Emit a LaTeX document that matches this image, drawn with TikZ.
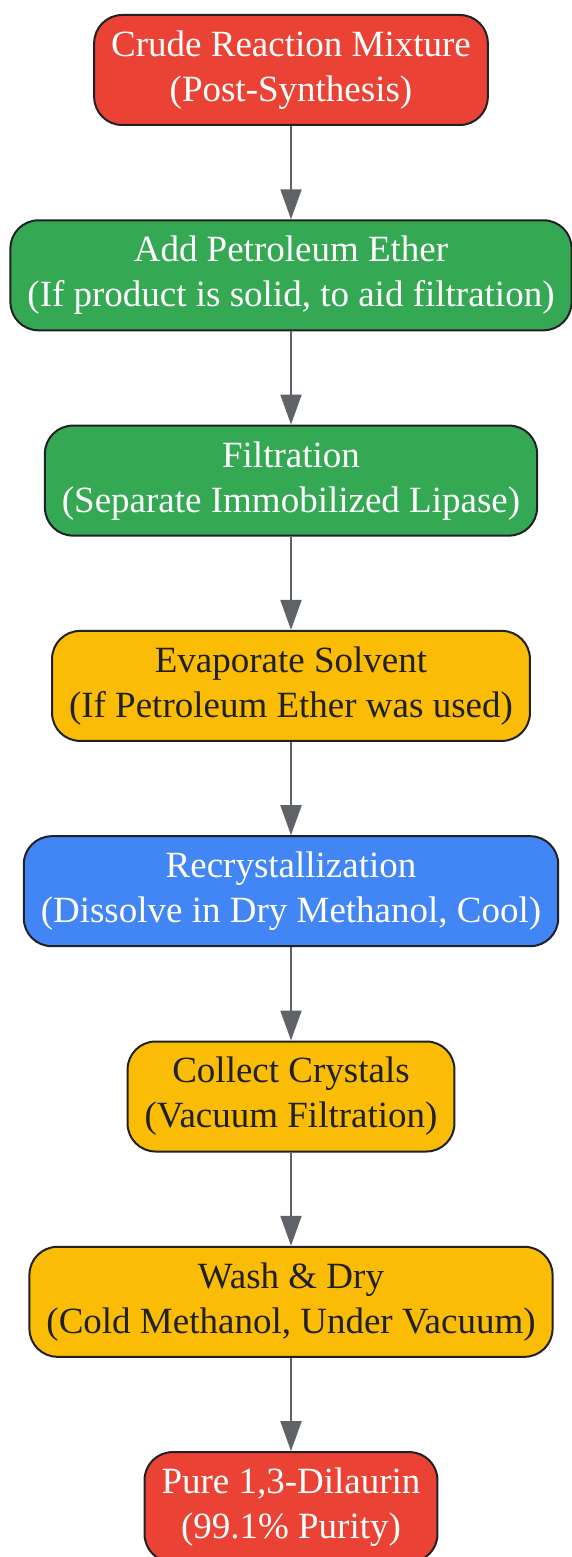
\documentclass[tikz,border=0pt]{standalone}
\usepackage{fontspec}
\setmainfont{Liberation Serif}
\usetikzlibrary{positioning, arrows.meta}
\definecolor{stepRed}{HTML}{EA4335}
\definecolor{stepGreen}{HTML}{34A853}
\definecolor{stepYellow}{HTML}{FBBC05}
\definecolor{stepBlue}{HTML}{4285F4}
\definecolor{stepBord}{HTML}{202124}
\definecolor{flowGrey}{HTML}{5F6368}
\tikzstyle{stepBox}=[draw=stepBord, line width=2pt, rounded corners=28pt,
  minimum height=110pt, inner xsep=17pt, align=center,
  font=\fontsize{37}{45}\selectfont]
\tikzstyle{redStep}=[stepBox, fill=stepRed, text=white]
\tikzstyle{greenStep}=[stepBox, fill=stepGreen, text=white]
\tikzstyle{yellowStep}=[stepBox, fill=stepYellow, text=stepBord]
\tikzstyle{blueStep}=[stepBox, fill=stepBlue, text=white]
\tikzstyle{flow}=[-{Triangle[length=30pt, width=21pt]}, line width=2pt, draw=flowGrey]

\begin{document}
\begin{tikzpicture}[x=1pt, y=1pt, node distance=93.3pt]
      \useasboundingbox (0,0) rectangle (571,-1557);

      \node[redStep] (crude) at (291,-70) {Crude Reaction Mixture\\(Post-Synthesis)};
      \node[greenStep, below=of crude] (ether) {Add Petroleum Ether\\(If product is solid, to aid filtration)};
      \node[greenStep, below=of ether] (filt) {Filtration\\(Separate Immobilized Lipase)};
      \node[yellowStep, below=of filt] (evap) {Evaporate Solvent\\(If Petroleum Ether was used)};
      \node[blueStep, below=of evap] (recryst) {Recrystallization\\(Dissolve in Dry Methanol, Cool)};
      \node[yellowStep, below=of recryst] (collect) {Collect Crystals\\(Vacuum Filtration)};
      \node[yellowStep, below=of collect] (wash) {Wash \& Dry\\(Cold Methanol, Under Vacuum)};
      \node[redStep, below=of wash] (pure) {Pure 1,3-Dilaurin\\(99.1\% Purity)};

      \foreach \a/\b in {crude/ether, ether/filt, filt/evap, evap/recryst,
        recryst/collect, collect/wash, wash/pure}
      \draw[flow] (\a) -- (\b);
    \end{tikzpicture}
\end{document}
